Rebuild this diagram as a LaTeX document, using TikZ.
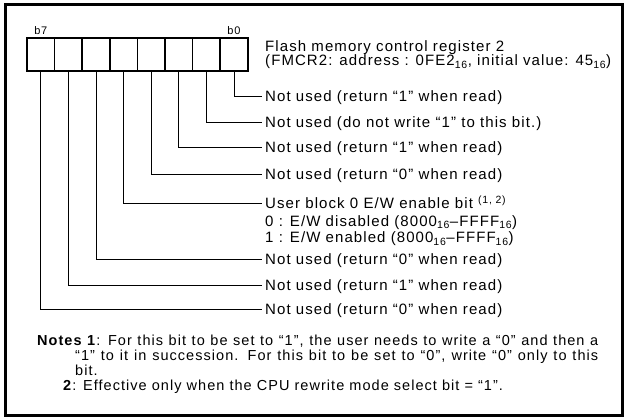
\documentclass[tikz,border=0pt]{standalone}
\usepackage{fontspec}
\setmainfont{Liberation Sans}[LetterSpace=7.2]
\usetikzlibrary{positioning}

\begin{document}
\begin{tikzpicture}[
  x=1pt, y=-1pt,
  cell/.style={draw, line width=1.5pt, minimum width=27.6pt, minimum height=33pt, inner sep=0pt, outer sep=0pt},
  bitlabel/.style={font=\fontsize{11}{12}\selectfont, inner sep=1pt},
  heading/.style={anchor=west, align=left, font=\fontsize{15}{14}\selectfont, inner sep=3pt},
  desc/.style={anchor=west, font=\fontsize{15}{15}\selectfont, inner xsep=3pt, inner ysep=2pt, text height=11pt, text depth=1pt},
  note/.style={font=\fontsize{14.5}{15}\selectfont, inner sep=0pt},
  lead/.style={line width=1pt},
]
  \useasboundingbox (0,0) rectangle (624,419);
  \draw[line width=3pt] (5,5) rectangle (622.5,416);

  \node[cell, anchor=north west] (c7) at (27,38) {};
  \node[cell, right=0pt of c7] (c6) {};
  \node[cell, right=0pt of c6] (c5) {};
  \node[cell, right=0pt of c5] (c4) {};
  \node[cell, right=0pt of c4] (c3) {};
  \node[cell, right=0pt of c3] (c2) {};
  \node[cell, right=0pt of c2] (c1) {};
  \node[cell, right=0pt of c1] (c0) {};
  \node[bitlabel, above=2pt of c7] (b7) {b7};
  \node[bitlabel, above=2pt of c0] (b0) {b0};

  \node[heading] (reg) at (262,55) {Flash memory control register 2\\(FMCR2: address : 0FE2\textsubscript{16}, initial value: 45\textsubscript{16})};

  \node[desc] (l0) at (262,97) {Not used (return “1” when read)};
  \node[desc] (l1) at (262,123) {Not used (do not write “1” to this bit.)};
  \node[desc] (l2) at (262,148) {Not used (return “1” when read)};
  \node[desc] (l3) at (262,175) {Not used (return “0” when read)};
  \node[desc] (l4) at (262,204) {User block 0 E/W enable bit \textsuperscript{(1, 2)}};
  \node[desc, below=1pt of l4.south west, anchor=north west] (l4a) {0 : E/W disabled (8000\textsubscript{16}–FFFF\textsubscript{16})};
  \node[desc, below=0pt of l4a.south west, anchor=north west] (l4b) {1 : E/W enabled (8000\textsubscript{16}–FFFF\textsubscript{16})};
  \node[desc] (l5) at (262,260) {Not used (return “0” when read)};
  \node[desc] (l6) at (262,286) {Not used (return “1” when read)};
  \node[desc] (l7) at (262,310) {Not used (return “0” when read)};

  \draw[lead] (c0.south) |- (l0.west);
  \draw[lead] (c1.south) |- (l1.west);
  \draw[lead] (c2.south) |- (l2.west);
  \draw[lead] (c3.south) |- (l3.west);
  \draw[lead] (c4.south) |- (l4.west);
  \draw[lead] (c5.south) |- (l5.west);
  \draw[lead] (c6.south) |- (l6.west);
  \draw[lead] (c7.south) |- (l7.west);

  \node[note, anchor=base west, text width=523pt, align=justify] (note1) at (75,346) {\hspace*{-38pt}\textbf{Notes 1}: For this bit to be set to “1”, the user needs to write a “0” and then a\linebreak “1” to it in succession. For this bit to be set to “0”, write “0” only to this\linebreak bit.};
  \node[note, anchor=base west] (note2) at (63,391) {\textbf{2}: Effective only when the CPU rewrite mode select bit = “1”.};
\end{tikzpicture}
\end{document}
